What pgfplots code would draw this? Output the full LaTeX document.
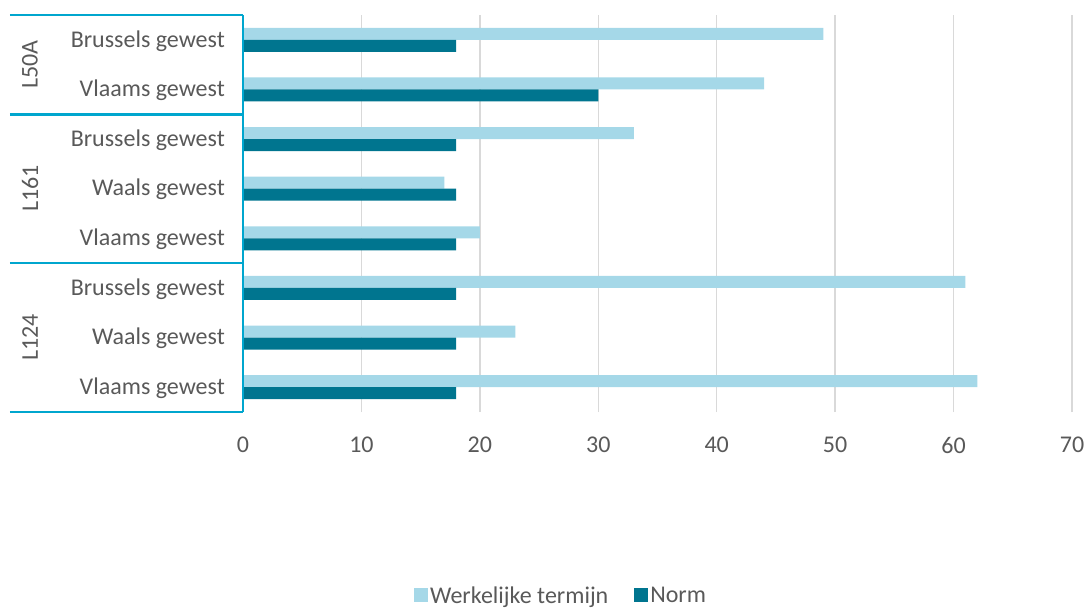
\documentclass[border=0pt]{standalone}
\usepackage{pgfplots}
\pgfplotsset{compat=1.18}
\usepackage{fontspec}
\setmainfont{Carlito}
\definecolor{lightb}{RGB}{165,216,232}
\definecolor{darkt}{RGB}{0,117,143}
\definecolor{cyanl}{RGB}{0,166,206}
\definecolor{txt}{RGB}{89,89,89}
\definecolor{gridc}{RGB}{217,217,217}
\begin{document}
\begin{tikzpicture}
\begin{axis}[
  at={(243bp,-15bp)}, anchor=north west,
  scale only axis, width=829bp, height=397bp,
  xbar=0pt, bar width=12bp,
  xmin=0, xmax=70, ymin=0.5, ymax=8.5,
  xtick={0,10,...,70}, ytick={1,...,8},
  yticklabels={Vlaams gewest,Waals gewest,Brussels gewest,Vlaams gewest,Waals gewest,Brussels gewest,Vlaams gewest,Brussels gewest},
  major tick length=0pt,
  axis line style={draw=none},
  xmajorgrids, major grid style={gridc, line width=1.5bp},
  font=\fontsize{24bp}{28bp}\selectfont,
  tick label style={txt},
  xticklabel style={anchor=north, inner sep=0pt, yshift=-25bp},
  yticklabel style={anchor=east, inner sep=0pt, xshift=-18bp, yshift=-1bp},
  /pgf/number format/assume math mode=true,
  clip=false,
  legend columns=2,
  legend style={at={(0.3836,-0.462)}, anchor=center, draw=none, fill=none,
    font=\fontsize{24bp}{28bp}\selectfont\color{txt}, inner sep=0pt,
    nodes={inner sep=2bp},
    /tikz/every even column/.append style={column sep=24bp}},
  legend image code/.code={\fill[#1] (0bp,-7bp) rectangle (14bp,7bp);},
]
% y = 8 is the top row (L50A Brussels gewest), y = 1 the bottom row (L124 Vlaams gewest)
\addplot[fill=lightb, draw=none, bar shift=6bp] coordinates {(49,8) (44,7) (33,6) (17,5) (20,4) (61,3) (23,2) (62,1)};
\addplot[fill=darkt, draw=none, bar shift=-6bp] coordinates {(18,8) (30,7) (18,6) (18,5) (18,4) (18,3) (18,2) (18,1)};
\legend{Werkelijke termijn, Norm}
\draw[cyanl, line width=2.5bp] (axis cs:0,0.5) -- (axis cs:0,8.5);
\pgfplotsinvokeforeach{0.5,3.5,6.5,8.5}{
  \draw[cyanl, line width=2.5bp] ([xshift=-233bp]axis cs:0,#1) -- (axis cs:0,#1);
}
\node[rotate=90, txt, inner sep=0pt] at ([xshift=-213bp]axis cs:0,7.5) {L50A};
\node[rotate=90, txt, inner sep=0pt] at ([xshift=-213bp]axis cs:0,5) {L161};
\node[rotate=90, txt, inner sep=0pt] at ([xshift=-213bp]axis cs:0,2) {L124};
\end{axis}
\pgfresetboundingbox
\path[use as bounding box] (0,0) rectangle (1085bp,-608bp);
\end{tikzpicture}
\end{document}
